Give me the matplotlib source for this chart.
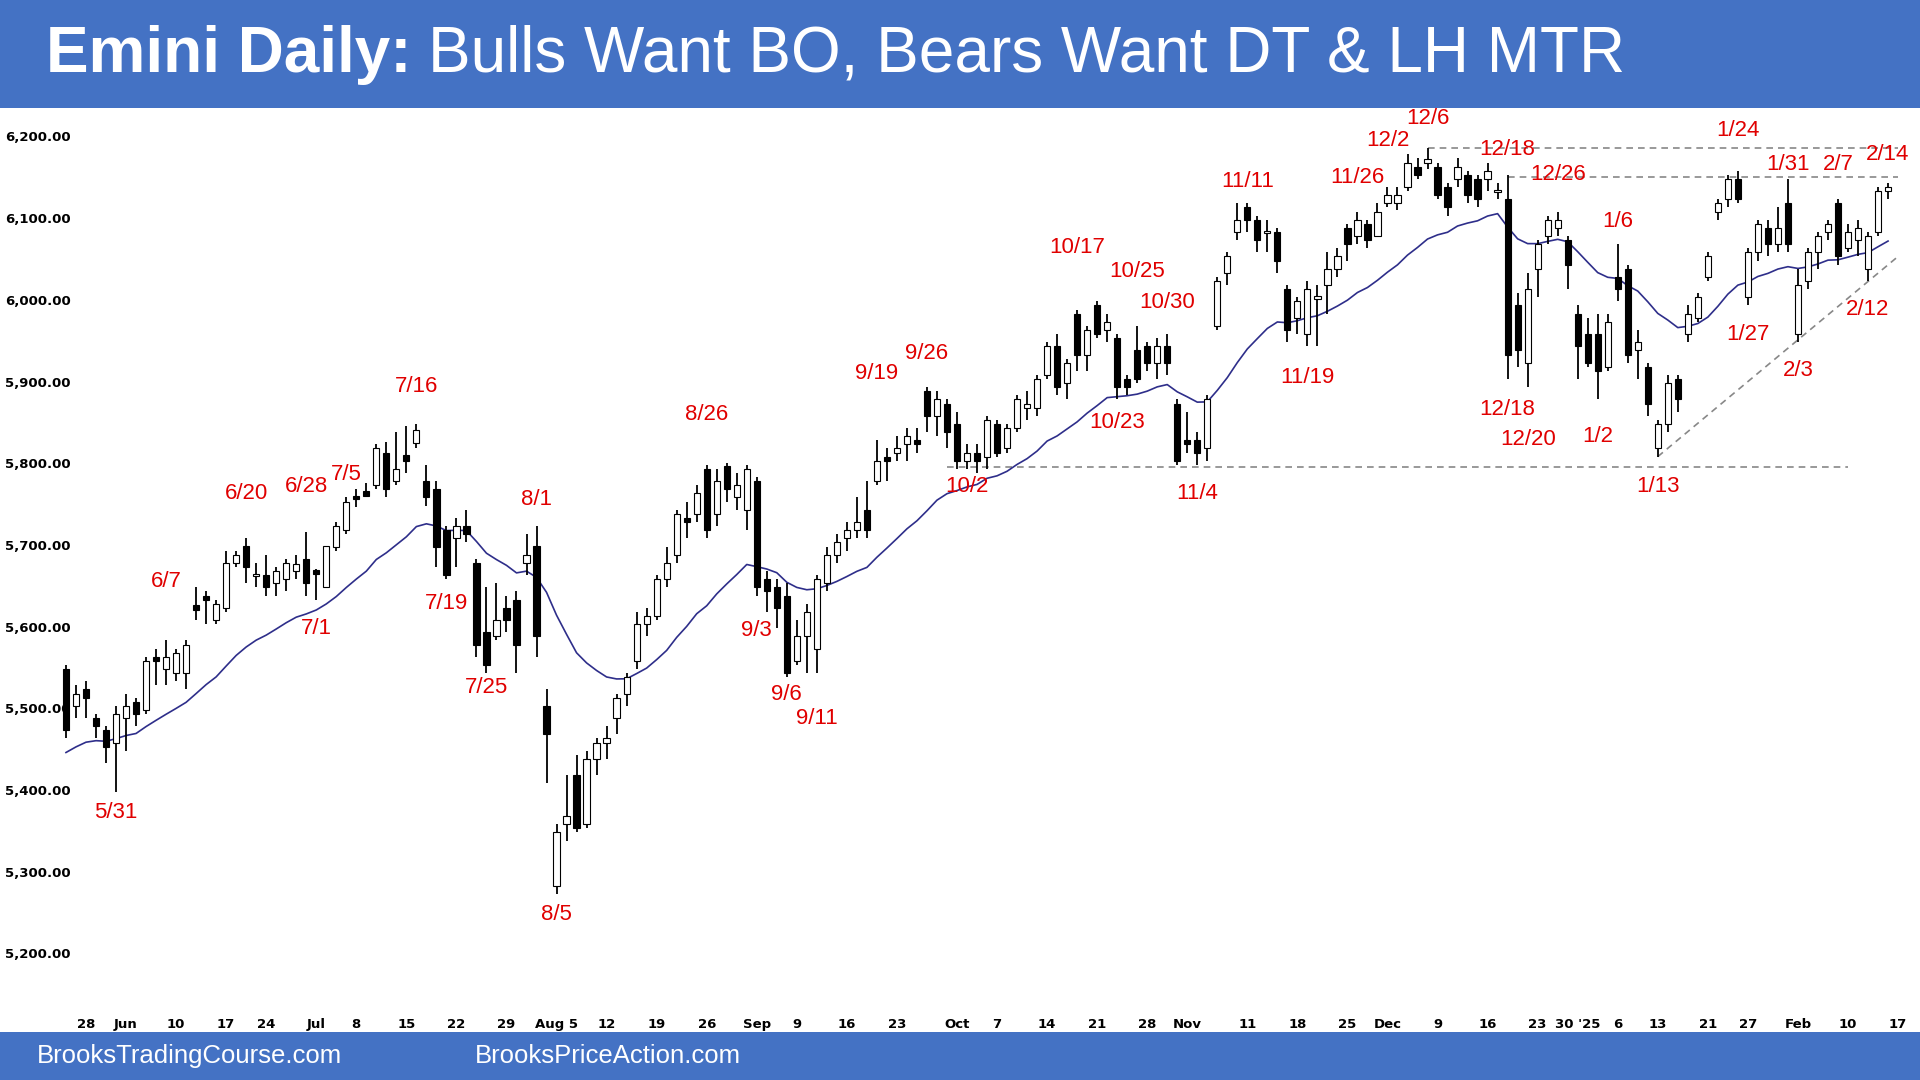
import matplotlib
matplotlib.use('Agg')
import matplotlib.pyplot as plt
import matplotlib.transforms as mtransforms
import pandas as pd

# daily bars per month: (day, open, high, low, close)
may24 = [(23, 5550, 5555, 5465, 5475), (24, 5505, 5530, 5490, 5520), (28, 5525, 5535, 5490, 5515),
         (29, 5490, 5495, 5465, 5480), (30, 5475, 5480, 5435, 5455), (31, 5460, 5505, 5400, 5495)]
jun24 = [(3, 5490, 5520, 5450, 5505), (4, 5510, 5515, 5480, 5495), (5, 5500, 5565, 5495, 5560),
         (6, 5565, 5575, 5530, 5560), (7, 5550, 5585, 5530, 5565), (10, 5545, 5575, 5535, 5570),
         (11, 5545, 5585, 5525, 5580), (12, 5628, 5650, 5610, 5622), (13, 5640, 5645, 5605, 5635),
         (14, 5610, 5635, 5605, 5630), (17, 5625, 5695, 5620, 5680), (18, 5680, 5695, 5675, 5690),
         (20, 5700, 5710, 5655, 5675), (21, 5665, 5680, 5650, 5665), (24, 5665, 5690, 5640, 5650),
         (25, 5655, 5675, 5640, 5670), (26, 5660, 5685, 5645, 5680), (27, 5670, 5690, 5660, 5678),
         (28, 5685, 5718, 5640, 5655)]
jul24 = [(1, 5670, 5672, 5635, 5668), (2, 5650, 5700, 5650, 5700), (3, 5700, 5730, 5695, 5725),
         (5, 5720, 5760, 5715, 5755), (8, 5762, 5770, 5748, 5758), (9, 5768, 5778, 5760, 5762),
         (10, 5775, 5825, 5770, 5820), (11, 5815, 5828, 5760, 5770), (12, 5780, 5840, 5775, 5795),
         (15, 5812, 5848, 5790, 5805), (16, 5827, 5850, 5820, 5843), (17, 5780, 5800, 5750, 5760),
         (18, 5770, 5780, 5675, 5700), (19, 5720, 5725, 5660, 5665), (22, 5710, 5735, 5675, 5725),
         (23, 5725, 5745, 5705, 5715), (24, 5680, 5685, 5565, 5580), (25, 5595, 5650, 5545, 5555),
         (26, 5590, 5655, 5585, 5610), (29, 5625, 5640, 5595, 5610), (30, 5635, 5645, 5545, 5580),
         (31, 5680, 5715, 5665, 5690)]
aug24 = [(1, 5700, 5725, 5565, 5590), (2, 5505, 5525, 5410, 5470), (5, 5285, 5360, 5275, 5350),
         (6, 5360, 5420, 5340, 5370), (7, 5420, 5445, 5350, 5355), (8, 5360, 5450, 5355, 5440),
         (9, 5440, 5465, 5420, 5460), (12, 5460, 5480, 5440, 5465), (13, 5490, 5520, 5470, 5515),
         (14, 5520, 5545, 5505, 5540), (15, 5560, 5620, 5550, 5605), (16, 5605, 5625, 5590, 5615),
         (19, 5615, 5665, 5610, 5660), (20, 5660, 5700, 5650, 5680), (21, 5690, 5745, 5680, 5740),
         (22, 5735, 5755, 5710, 5730), (23, 5740, 5775, 5730, 5765), (26, 5795, 5800, 5710, 5720),
         (27, 5740, 5795, 5725, 5780), (28, 5798, 5802, 5755, 5770), (29, 5760, 5790, 5745, 5775),
         (30, 5745, 5800, 5720, 5795)]
sep24 = [(3, 5780, 5785, 5640, 5650), (4, 5660, 5670, 5620, 5645), (5, 5650, 5660, 5600, 5625),
         (6, 5640, 5655, 5540, 5545), (9, 5560, 5610, 5555, 5590), (10, 5590, 5630, 5545, 5620),
         (11, 5575, 5665, 5545, 5660), (12, 5655, 5700, 5645, 5690), (13, 5690, 5715, 5680, 5705),
         (16, 5710, 5730, 5695, 5720), (17, 5720, 5760, 5710, 5730), (18, 5745, 5780, 5710, 5720),
         (19, 5780, 5830, 5775, 5805), (20, 5810, 5820, 5780, 5805), (23, 5815, 5835, 5805, 5820),
         (24, 5825, 5845, 5805, 5835), (25, 5830, 5845, 5815, 5825), (26, 5890, 5895, 5840, 5860),
         (27, 5860, 5890, 5835, 5880), (30, 5875, 5880, 5820, 5840)]
oct24 = [(1, 5850, 5865, 5795, 5805), (2, 5805, 5825, 5795, 5815), (3, 5815, 5825, 5790, 5805),
         (4, 5810, 5860, 5795, 5855), (7, 5850, 5855, 5810, 5815), (8, 5820, 5850, 5815, 5845),
         (9, 5845, 5885, 5840, 5880), (10, 5870, 5890, 5855, 5875), (11, 5870, 5910, 5860, 5905),
         (14, 5910, 5950, 5905, 5945), (15, 5945, 5960, 5885, 5895), (16, 5900, 5930, 5880, 5925),
         (17, 5985, 5990, 5915, 5935), (18, 5935, 5970, 5915, 5965), (21, 5995, 6000, 5955, 5960),
         (22, 5965, 5985, 5950, 5975), (23, 5955, 5960, 5880, 5895), (24, 5905, 5910, 5885, 5895),
         (25, 5940, 5970, 5900, 5905), (28, 5945, 5950, 5915, 5925), (29, 5925, 5955, 5905, 5945),
         (30, 5945, 5960, 5910, 5925), (31, 5875, 5880, 5800, 5805)]
nov24 = [(1, 5830, 5865, 5815, 5825), (4, 5830, 5840, 5800, 5815), (5, 5820, 5885, 5805, 5880),
         (6, 5970, 6030, 5965, 6025), (7, 6035, 6060, 6020, 6055), (8, 6085, 6120, 6075, 6100),
         (11, 6115, 6120, 6085, 6100), (12, 6100, 6105, 6060, 6075), (13, 6085, 6100, 6060, 6085),
         (14, 6085, 6090, 6035, 6050), (15, 6015, 6020, 5950, 5965), (18, 5980, 6005, 5960, 6000),
         (19, 5960, 6025, 5945, 6015), (20, 6005, 6020, 5945, 6005), (21, 6020, 6060, 5985, 6040),
         (22, 6040, 6065, 6030, 6055), (25, 6090, 6095, 6050, 6070), (26, 6080, 6110, 6070, 6100),
         (27, 6095, 6100, 6065, 6075), (29, 6080, 6120, 6080, 6110)]
dec24 = [(2, 6120, 6140, 6115, 6130), (3, 6120, 6140, 6112, 6130), (4, 6140, 6180, 6135, 6170),
         (5, 6165, 6175, 6150, 6155), (6, 6170, 6188, 6162, 6174), (9, 6165, 6170, 6125, 6130),
         (10, 6140, 6145, 6105, 6115), (11, 6150, 6175, 6140, 6165), (12, 6155, 6160, 6120, 6130),
         (13, 6150, 6155, 6115, 6125), (16, 6150, 6170, 6135, 6160), (17, 6135, 6145, 6125, 6135),
         (18, 6125, 6155, 5905, 5935), (19, 5995, 6010, 5920, 5940), (20, 5925, 6035, 5895, 6015),
         (23, 6040, 6075, 6005, 6070), (24, 6080, 6105, 6070, 6100), (26, 6090, 6110, 6080, 6100),
         (27, 6075, 6080, 6015, 6045), (30, 5985, 5995, 5905, 5945), (31, 5960, 5980, 5920, 5925)]
jan25 = [(2, 5960, 5985, 5880, 5915), (3, 5920, 5985, 5915, 5975), (6, 6030, 6070, 6000, 6015),
         (7, 6040, 6045, 5925, 5935), (8, 5940, 5965, 5905, 5950), (10, 5920, 5925, 5860, 5875),
         (13, 5820, 5855, 5810, 5850), (14, 5850, 5910, 5840, 5900), (15, 5905, 5910, 5865, 5880),
         (16, 5960, 5995, 5950, 5985), (17, 5980, 6010, 5975, 6005), (21, 6030, 6060, 6025, 6055),
         (22, 6110, 6125, 6100, 6120), (23, 6125, 6155, 6115, 6150), (24, 6150, 6160, 6120, 6125),
         (27, 6005, 6065, 5995, 6060), (28, 6060, 6100, 6050, 6095), (29, 6090, 6100, 6055, 6070),
         (30, 6070, 6115, 6060, 6090), (31, 6120, 6150, 6060, 6070)]
feb25 = [(3, 5960, 6040, 5950, 6020), (4, 6025, 6065, 6015, 6060), (5, 6060, 6085, 6040, 6080),
         (6, 6085, 6100, 6075, 6095), (7, 6120, 6125, 6045, 6055), (10, 6065, 6095, 6060, 6085),
         (11, 6075, 6100, 6055, 6090), (12, 6040, 6085, 6025, 6080), (13, 6085, 6140, 6080, 6135),
         (14, 6135, 6145, 6125, 6140)]

months = [('2024-05', may24), ('2024-06', jun24), ('2024-07', jul24), ('2024-08', aug24),
          ('2024-09', sep24), ('2024-10', oct24), ('2024-11', nov24), ('2024-12', dec24),
          ('2025-01', jan25), ('2025-02', feb25)]

ema_seed = 5445  # 20-bar EMA value before first bar

x_ticks = [('2024-05-28', '28'), ('2024-06-03', 'Jun'), ('2024-06-10', '10'), ('2024-06-17', '17'),
           ('2024-06-24', '24'), ('2024-07-01', 'Jul'), ('2024-07-08', '8'), ('2024-07-15', '15'),
           ('2024-07-22', '22'), ('2024-07-29', '29'), ('2024-08-05', 'Aug 5'), ('2024-08-12', '12'),
           ('2024-08-19', '19'), ('2024-08-26', '26'), ('2024-09-03', 'Sep'), ('2024-09-09', '9'),
           ('2024-09-16', '16'), ('2024-09-23', '23'), ('2024-10-01', 'Oct'), ('2024-10-07', '7'),
           ('2024-10-14', '14'), ('2024-10-21', '21'), ('2024-10-28', '28'), ('2024-11-01', 'Nov'),
           ('2024-11-11', '11'), ('2024-11-18', '18'), ('2024-11-25', '25'), ('2024-12-02', 'Dec'),
           ('2024-12-09', '9'), ('2024-12-16', '16'), ('2024-12-23', '23'), ('2024-12-30', "30 '25"),
           ('2025-01-06', '6'), ('2025-01-13', '13'), ('2025-01-21', '21'), ('2025-01-27', '27'),
           ('2025-02-03', 'Feb'), ('2025-02-10', '10'), ('2025-02-17', '17')]

# (text, bar date, price, bar offset)
bar_labels = [('5/31', '2024-05-31', 5374, 0), ('6/7', '2024-06-07', 5657, 0),
              ('6/20', '2024-06-20', 5765, 0), ('6/28', '2024-06-28', 5774, 0),
              ('7/1', '2024-07-01', 5600, 0), ('7/5', '2024-07-05', 5788, 0),
              ('7/16', '2024-07-16', 5896, 0), ('7/19', '2024-07-19', 5630, 0),
              ('7/25', '2024-07-25', 5527, 0), ('8/1', '2024-08-01', 5757, 0),
              ('8/5', '2024-08-05', 5249, 0), ('8/26', '2024-08-26', 5861, 0),
              ('9/3', '2024-09-03', 5597, 0), ('9/6', '2024-09-06', 5519, 0),
              ('9/11', '2024-09-11', 5489, 0), ('9/19', '2024-09-19', 5912, 0),
              ('9/26', '2024-09-26', 5936, 0), ('10/2', '2024-10-02', 5774, 0),
              ('10/17', '2024-10-17', 6066, 0), ('10/25', '2024-10-25', 6036, 0),
              ('10/30', '2024-10-30', 5999, 0), ('10/23', '2024-10-23', 5852, 0),
              ('11/4', '2024-11-04', 5765, 0), ('11/11', '2024-11-11', 6147, 0),
              ('11/19', '2024-11-19', 5907, 0), ('11/26', '2024-11-26', 6152, 0),
              ('12/2', '2024-12-02', 6197, 0), ('12/6', '2024-12-06', 6224, 0),
              ('12/18', '2024-12-18', 6186, 0), ('12/26', '2024-12-26', 6155, 0),
              ('12/18', '2024-12-18', 5868, 0), ('12/20', '2024-12-20', 5831, 0),
              ('1/2', '2025-01-02', 5835, 0), ('1/6', '2025-01-06', 6098, 0),
              ('1/13', '2025-01-13', 5774, 0), ('1/24', '2025-01-24', 6209, 0),
              ('1/31', '2025-01-31', 6168, 0), ('2/7', '2025-02-07', 6168, 0),
              ('2/14', '2025-02-14', 6180, 0), ('1/27', '2025-01-27', 5960, 0),
              ('2/3', '2025-02-03', 5915, 0), ('2/12', '2025-02-12', 5990, 0)]

# build frame
rows = []
for ym, bars in months:
    for d, o, h, l, c in bars:
        rows.append((pd.Timestamp('%s-%02d' % (ym, d)), o, h, l, c))
df = pd.DataFrame(rows, columns=['date', 'open', 'high', 'low', 'close'])
idx = {d.strftime('%Y-%m-%d'): i for i, d in enumerate(df['date'])}
idx['2025-02-17'] = len(df)

ema = []
prev = ema_seed
k = 2.0 / 21
for c in df['close']:
    prev = prev + k * (c - prev)
    ema.append(prev)

W, H = 1920, 1080
fig = plt.figure(figsize=(W / 100, H / 100), dpi=100)
fig.patch.set_facecolor('white')

# axes spanning full width, mapped from pixel positions
ax_top, ax_bot = 105, 1010
ax = fig.add_axes([0, 1 - ax_bot / H, 1, (ax_bot - ax_top) / H])
i0, i1 = idx['2024-05-28'], idx['2025-02-10']
px0, px1 = 86, 1848
ppb = (px1 - px0) / (i1 - i0)
ax.set_xlim(i0 - px0 / ppb, i0 + (W - px0) / ppb)
ppp = (955 - 138) / 1000.0
ax.set_ylim(5200 - (ax_bot - 955) / ppp, 6200 + (138 - ax_top) / ppp)
for s in ax.spines.values():
    s.set_visible(False)
ax.set_yticks([])
ax.tick_params(axis='x', length=0, pad=6)
ax.set_xticks([idx[d] for d, _ in x_ticks])
ax.set_xticklabels([t for _, t in x_ticks], fontsize=9.5, fontweight='bold', family='Liberation Sans Narrow')

bw = 0.62
for i, r in df.iterrows():
    ax.vlines(i, r['low'], r['high'], color='black', lw=1.3, zorder=2)
    lo, hi = min(r['open'], r['close']), max(r['open'], r['close'])
    if hi - lo < 3:
        hi, lo = hi + 1.5, lo - 1.5
    fc = 'white' if r['close'] >= r['open'] else 'black'
    ax.add_patch(plt.Rectangle((i - bw / 2, lo), bw, hi - lo, facecolor=fc,
                               edgecolor='black', lw=0.8, zorder=3))
ax.plot(range(len(df)), ema, color='#2e2e8a', lw=1.2, zorder=1)

# support / resistance lines
dash = dict(color='#888888', lw=1.2, ls=(0, (4, 3)), zorder=0)
ax.plot([idx['2024-09-30'], idx['2025-02-10']], [5797, 5797], **dash)
ax.plot([idx['2024-12-06'], len(df)], [6188, 6188], **dash)
ax.plot([idx['2024-12-18'], len(df)], [6152, 6152], **dash)
ax.plot([idx['2025-01-13'], len(df)], [5810, 6055], **dash)

# y tick labels
trans = mtransforms.blended_transform_factory(fig.transFigure, ax.transData)
for p in range(5200, 6201, 100):
    ax.text(5 / W, p, '{:,.2f}'.format(p), transform=trans, fontsize=9.5, fontweight='bold',
            family='Liberation Sans Narrow', ha='left', va='center')

for t, d, p, off in bar_labels:
    ax.text(idx[d] + off, p, t, color='#e00000', fontsize=16, ha='center', va='center',
            family='Liberation Sans')

# title band
fig.add_artist(plt.Rectangle((0, 1 - 108 / H), 1, 108 / H, transform=fig.transFigure,
                             facecolor='#4472c4', edgecolor='none'))
t1 = fig.text(46 / W, 1 - 55 / H, 'Emini Daily:', color='white', fontsize=46, fontweight='bold',
              family='Liberation Sans', va='center', ha='left')
fig.canvas.draw()
bb = t1.get_window_extent(fig.canvas.get_renderer())
fig.text(bb.x1 / W + 16 / W, 1 - 55 / H, 'Bulls Want BO, Bears Want DT & LH MTR', color='white',
         fontsize=46, family='Liberation Sans', va='center', ha='left')

# footer band
fig.add_artist(plt.Rectangle((0, 0), 1, 48 / H, transform=fig.transFigure,
                             facecolor='#4472c4', edgecolor='none'))
fig.text(37 / W, 24 / H, 'BrooksTradingCourse.com', color='white', fontsize=18.5,
         family='Liberation Sans', va='center')
fig.text(475 / W, 24 / H, 'BrooksPriceAction.com', color='white', fontsize=18.5,
         family='Liberation Sans', va='center')

fig.savefig('out.png', dpi=100)
plt.close(fig)
